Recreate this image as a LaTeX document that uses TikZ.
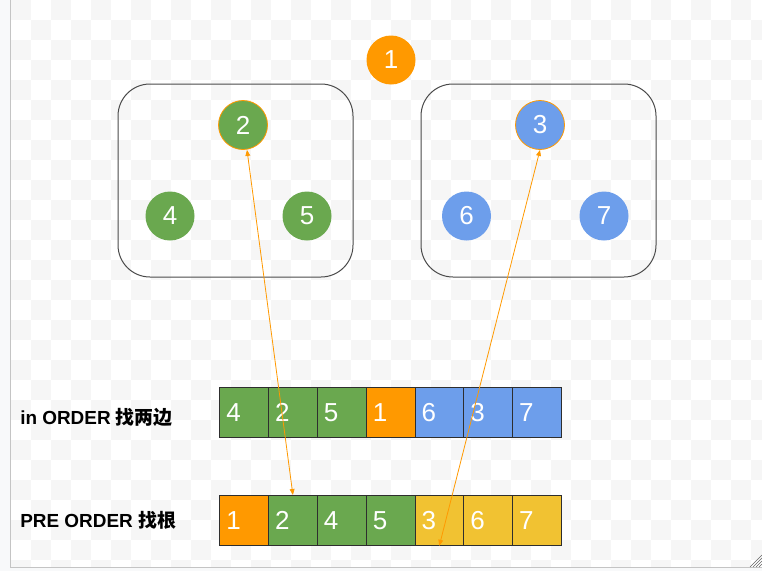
\documentclass[tikz,border=0pt]{standalone}
\usepackage{fontspec}
\setmainfont{Liberation Sans}
\newfontfamily\cjk{Noto Sans CJK SC}
\usetikzlibrary{arrows.meta,calc}
\definecolor{tgreen}{HTML}{6AA84F}
\definecolor{tblue}{HTML}{6D9EEB}
\definecolor{torange}{HTML}{FF9900}
\definecolor{tyellow}{HTML}{F1C232}
\definecolor{checker}{HTML}{F6F6F6}
\definecolor{strip}{HTML}{F8F9FA}
\definecolor{frame}{HTML}{C4C4C4}
\definecolor{boxline}{HTML}{4A4A4A}
\definecolor{cellline}{HTML}{2E2E2E}
\tikzset{
  circ/.style={circle,minimum size=36.75pt,inner sep=0pt,text=white,font=\fontsize{19.5}{19.5}\selectfont},
  cell/.style={rectangle,draw=cellline,line width=0.6pt,minimum width=36.6pt,minimum height=37.5pt,
    text width=26.6pt,inner xsep=5pt,inner ysep=0pt,align=left,text=white,font=\fontsize{19.5}{19.5}\selectfont,anchor=north west},
  group/.style={draw=boxline,line width=0.75pt,rounded corners=24pt},
  lbl/.style={anchor=west,inner sep=0pt,font=\fontsize{14.2}{14.2}\selectfont\bfseries},
  link/.style={draw=torange,line width=0.6pt,{Triangle[length=4.5pt,width=3.6pt]}-{Triangle[length=4.5pt,width=3.6pt]}}
}
\begin{document}
\begin{tikzpicture}[x=0.75pt,y=-0.75pt]
\useasboundingbox (0,0) rectangle (762,571);
% background
\fill[strip] (0,0) rectangle (762,571);
\fill[white] (10.5,0) rectangle (762,567.5);
\begin{scope}
\clip (10.5,0) rectangle (762,567.5);
\foreach \i in {0,...,37}{
  \foreach \j in {0,...,28}{
    \pgfmathtruncatemacro\myparity{mod(\i+\j,2)}
    \ifnum\myparity=0
      \fill[checker] (11+20*\i,20*\j) rectangle ++(20,20);
    \fi
  }
}
\end{scope}
\draw[frame,line width=0.9pt] (10.5,0) -- (10.5,567.5) -- (762,567.5);
\foreach \k in {0,...,3}{
  \draw[gray!80!black,line width=0.5pt] (750+3*\k,567) -- (762,555+3*\k);
}
% groups
\draw[group] (118,84) rectangle (353,277);
\draw[group] (421,84) rectangle (656,277);
% tree nodes
\node[circ,fill=torange] (n1) at (391,60) {1};
\node[circ,fill=tgreen,draw=torange,line width=0.6pt] (n2) at (243,125) {2};
\node[circ,fill=tgreen] (n4) at (170,216) {4};
\node[circ,fill=tgreen] (n5) at (307,216) {5};
\node[circ,fill=tblue,draw=torange,line width=0.6pt] (n3) at (540,125) {3};
\node[circ,fill=tblue] (n6) at (466.5,216) {6};
\node[circ,fill=tblue] (n7) at (604,216) {7};
% in order row
\node[cell,fill=tgreen] (in1) at (219.3,387) {4};
\node[cell,fill=tgreen] (in2) at (268.1,387) {2};
\node[cell,fill=tgreen] (in3) at (316.9,387) {5};
\node[cell,fill=torange] (in4) at (365.7,387) {1};
\node[cell,fill=tblue] (in5) at (414.5,387) {6};
\node[cell,fill=tblue] (in6) at (463.3,387) {3};
\node[cell,fill=tblue] (in7) at (512.1,387) {7};
% pre order row
\node[cell,fill=torange] (pre1) at (219.3,495) {1};
\node[cell,fill=tgreen] (pre2) at (268.1,495) {2};
\node[cell,fill=tgreen] (pre3) at (316.9,495) {4};
\node[cell,fill=tgreen] (pre4) at (365.7,495) {5};
\node[cell,fill=tyellow] (pre5) at (414.5,495) {3};
\node[cell,fill=tyellow] (pre6) at (463.3,495) {6};
\node[cell,fill=tyellow] (pre7) at (512.1,495) {7};
% labels
\node[lbl] (lin) at (20,417) {in ORDER {\cjk\bfseries 找两边}};
\node[lbl] (lpre) at (20,520) {PRE ORDER {\cjk\bfseries 找根}};
% links
\coordinate (t2) at ($(n2.south)+(4,0)$);
\draw[link] (pre2.north) -- (t2);
\draw[link] (pre5.south) -- (n3.south);
\end{tikzpicture}
\end{document}
